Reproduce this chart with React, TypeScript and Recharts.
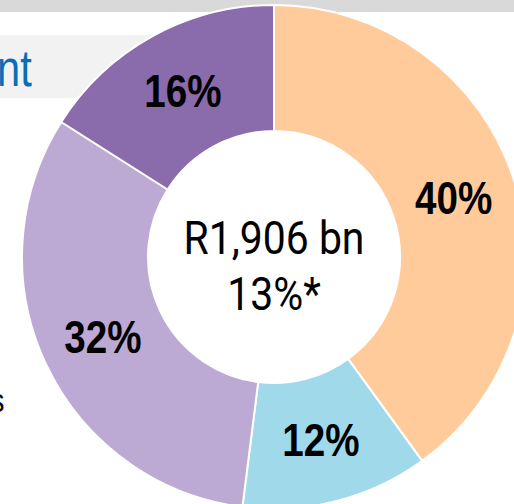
import { PieChart, Pie, Cell } from 'recharts';

const shares = [40, 12, 32, 16];
const sliceNames = ['Segment A', 'Segment B', 'Segment C', 'Segment D'];
const centerLines = ['R1,906 bn', '13%*'];

const COLORS = ['#FFCB9A', '#A0D9EA', '#BDAAD4', '#8A6BAB'];
const FONT = "'Liberation Sans', Arial, sans-serif";
const CENTER_FONT = "Roboto, 'Liberation Sans', sans-serif";
const RAD = Math.PI / 180;
const CX = 274;
const CY = 257;

const data = shares.map((v, i) => ({ name: sliceNames[i], value: v }));

// narrow bold look: squeeze Liberation Sans horizontally
const renderLabel = (props: any) => {
  const { cx, cy, midAngle, innerRadius, outerRadius, value } = props;
  const r = (innerRadius + outerRadius) / 2;
  const x = cx + r * Math.cos(-midAngle * RAD);
  const y = cy + r * Math.sin(-midAngle * RAD);
  return (
    <g transform={`translate(${x},${y}) scale(0.84,1)`}>
      <text
        x={0}
        y={0}
        textAnchor="middle"
        dominantBaseline="central"
        fill="#000"
        fontFamily={FONT}
        fontWeight="bold"
        fontSize={46}
      >
        {value}%
      </text>
    </g>
  );
};

export default function App() {
  return (
    <div style={{ position: 'absolute', left: 0, top: 0, width: 514, height: 504, overflow: 'hidden', background: '#fff' }}>
      <div style={{ position: 'absolute', left: 0, top: 0, width: 514, height: 12, background: '#D9D9D9' }} />
      <div style={{ position: 'absolute', left: 0, top: 35, width: 300, height: 63, background: '#F2F2F2' }} />
      <div
        style={{
          position: 'absolute', left: -3, top: 38, fontFamily: FONT, fontSize: 52, color: '#0A6EB4',
          lineHeight: '60px', whiteSpace: 'nowrap', transform: 'scaleX(0.8)', transformOrigin: 'left top',
        }}
      >
        nt
      </div>
      <div
        style={{
          position: 'absolute', left: -10, top: 378, fontFamily: FONT, fontSize: 34, color: '#000',
          lineHeight: '44px', transform: 'scaleX(0.85)', transformOrigin: 'left top',
        }}
      >
        s
      </div>
      <div style={{ position: 'absolute', left: 0, top: 0 }}>
        <PieChart width={514} height={504} margin={{ top: 0, right: 0, bottom: 0, left: 0 }}>
          <Pie
            data={data}
            dataKey="value"
            cx={CX}
            cy={CY}
            innerRadius={126}
            outerRadius={252}
            startAngle={90}
            endAngle={-270}
            stroke="#fff"
            strokeWidth={2}
            label={renderLabel}
            labelLine={false}
            isAnimationActive={false}
          >
            {data.map((d, i) => (
              <Cell key={d.name} fill={COLORS[i]} />
            ))}
          </Pie>
        </PieChart>
      </div>
      <div
        style={{
          position: 'absolute', left: CX - 150, top: CY - 47, width: 300, textAlign: 'center',
          fontFamily: CENTER_FONT, fontSize: 47, lineHeight: '56px', color: '#000',
          transform: 'scaleX(0.87)', transformOrigin: 'center top', whiteSpace: 'nowrap',
        }}
      >
        <div>{centerLines[0]}</div>
        <div>{centerLines[1]}</div>
      </div>
    </div>
  );
}
